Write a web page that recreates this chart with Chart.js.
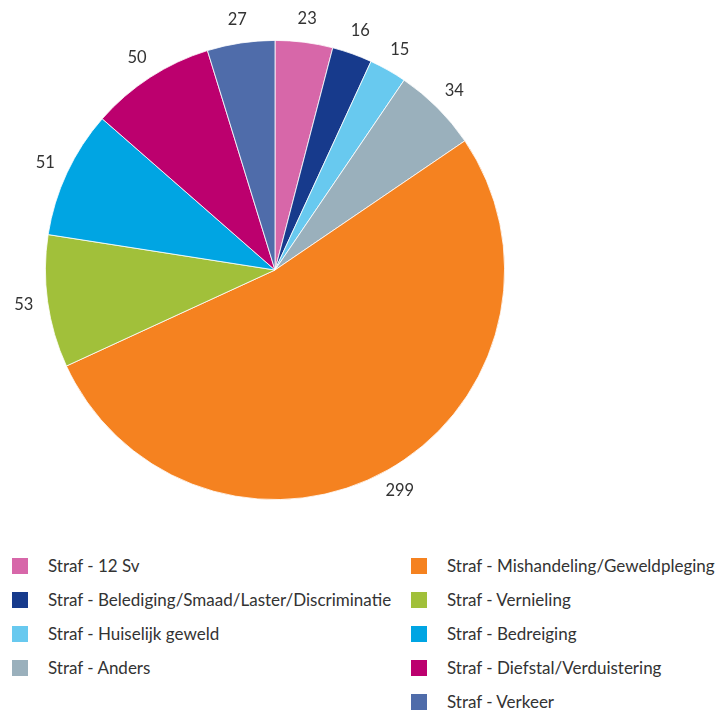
<!DOCTYPE html>
<html>
<head>
<meta charset="utf-8">
<script src="https://cdn.jsdelivr.net/npm/chart.js@4"></script>
<style>
  body { margin: 0; background: #fff; font-family: Lato, "Noto Sans", sans-serif; }
  #wrap { position: relative; width: 723px; height: 540px; }
  #legend { position: relative; width: 723px; height: 171px; }
  .item { position: absolute; font-size: 17px; color: #333; line-height: 18px; white-space: nowrap; }
  .box { position: absolute; width: 16px; height: 16px; }
</style>
</head>
<body>
<div id="wrap"><canvas id="pie"></canvas></div>
<div id="legend"></div>
<script>
const labels = [
  'Straf - 12 Sv',
  'Straf - Belediging/Smaad/Laster/Discriminatie',
  'Straf - Huiselijk geweld',
  'Straf - Anders',
  'Straf - Mishandeling/Geweldpleging',
  'Straf - Vernieling',
  'Straf - Bedreiging',
  'Straf - Diefstal/Verduistering',
  'Straf - Verkeer',
];
const values = [23, 16, 15, 34, 299, 53, 51, 50, 27];
const colors = [
  '#D767A9',
  '#173A8C',
  '#68C9EF',
  '#9AB0BC',
  '#F58220',
  '#A1C03A',
  '#00A5E3',
  '#BC006E',
  '#4F6CAA',
];

// value labels just outside each slice
const outsideLabels = {
  id: 'outsideLabels',
  afterDatasetsDraw(chart) {
    const c = chart.ctx;
    const meta = chart.getDatasetMeta(0);
    c.save();
    c.font = '16.5px Lato, "Noto Sans", sans-serif';
    c.fillStyle = '#333';
    c.textAlign = 'center';
    c.textBaseline = 'middle';
    meta.data.forEach((arc, i) => {
      const mid = (arc.startAngle + arc.endAngle) / 2;
      const r = arc.outerRadius + 24;
      c.fillText(String(values[i]), arc.x + Math.cos(mid) * r, arc.y + Math.sin(mid) * r);
    });
    c.restore();
  }
};

const ctx = document.getElementById('pie').getContext('2d');
const myChart = new Chart(ctx, {
  type: 'pie',
  data: {
    labels: labels,
    datasets: [{
      data: values,
      backgroundColor: colors,
      borderColor: '#fff',
      borderWidth: 0.8,
    }]
  },
  options: {
    responsive: true,
    maintainAspectRatio: false,
    animation: false,
    layout: { padding: { left: 45, right: 218, top: 40, bottom: 40 } },
    plugins: {
      legend: { display: false },
      tooltip: { enabled: false }
    }
  },
  plugins: [outsideLabels]
});

// legend: two columns, filled top to bottom
const legend = document.getElementById('legend');
const perCol = 4;
labels.forEach((name, i) => {
  const col = i < perCol ? 0 : 1;
  const row = col === 0 ? i : i - perCol;
  const top = 18 + row * 34;
  const box = document.createElement('div');
  box.className = 'box';
  box.style.background = colors[i];
  box.style.left = (col === 0 ? 12 : 411) + 'px';
  box.style.top = top + 'px';
  legend.appendChild(box);
  const t = document.createElement('div');
  t.className = 'item';
  t.textContent = name;
  t.style.left = (col === 0 ? 48 : 447) + 'px';
  t.style.top = (top - 1) + 'px';
  legend.appendChild(t);
});
</script>
</body>
</html>
